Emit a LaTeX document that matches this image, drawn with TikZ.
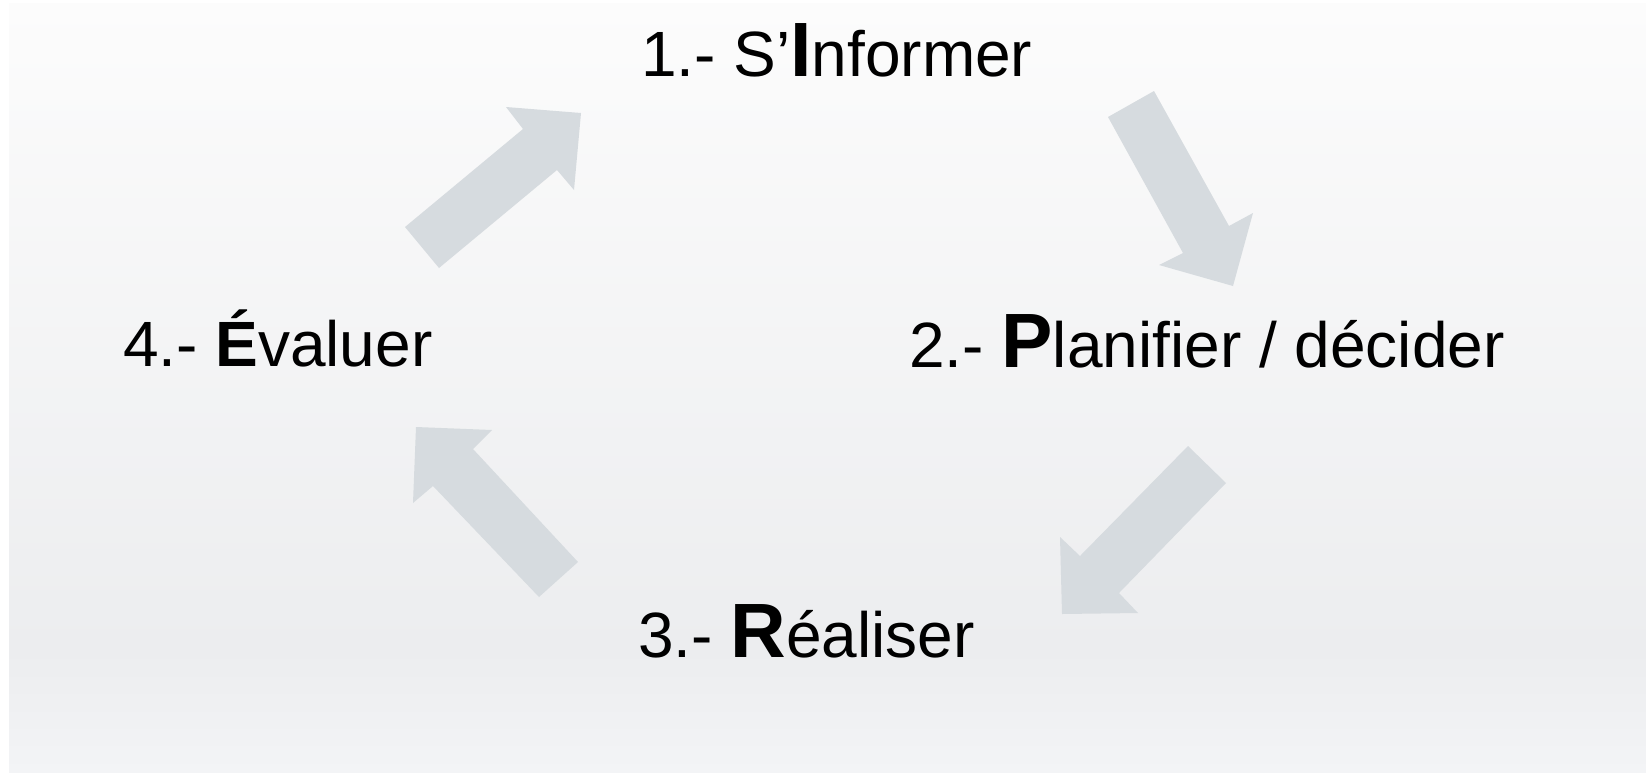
\documentclass[tikz,border=0pt]{standalone}
\usepackage{fontspec}
\setmainfont{Liberation Sans}
\definecolor{arrowgray}{RGB}{214,219,223}
\definecolor{bgtop}{RGB}{252,252,252}
\definecolor{bgmid}{RGB}{236,237,239}
\definecolor{bgbot}{RGB}{243,244,246}
\newcommand{\bigbf}[1]{{\fontsize{77}{77}\selectfont\bfseries #1}}
\begin{document}
\begin{tikzpicture}[x=1pt,y=-1pt,
  lbl/.style={anchor=base west,inner sep=0pt,outer sep=0pt,font=\fontsize{64}{64}\selectfont},
  blockarrow/.style={fill=arrowgray,draw=none}]
\useasboundingbox (0,0) rectangle (1646,772);
\shade[top color=bgtop,bottom color=bgmid] (9,3) rectangle (1646,650);
\shade[top color=bgmid,bottom color=bgbot] (9,650) rectangle (1646,772);
% arrow 4 -> 1
\fill[blockarrow] (405,227) -- (523,129) -- (506,107) -- (581,113) -- (574,190) -- (557,170) -- (439,268) -- cycle;
% arrow 1 -> 2
\fill[blockarrow] (1108,117) -- (1154,91) -- (1229,226) -- (1253,213) -- (1233,286) -- (1159,265) -- (1183,253) -- cycle;
% arrow 2 -> 3
\fill[blockarrow] (1188,446) -- (1226,483) -- (1119,593) -- (1138,613) -- (1062,614) -- (1060,537) -- (1080,556) -- cycle;
% arrow 3 -> 4
\fill[blockarrow] (578,562) -- (539,597) -- (433,486) -- (413,503) -- (416,427) -- (492,430) -- (473,449) -- cycle;
% labels
\node[lbl] (t1) at (641,76) {1.- S’\bigbf{I}nformer};
\node[lbl] (t2) at (909,367) {2.- \bigbf{P}lanifier / décider};
\node[lbl] (t3) at (638,657) {3.- \bigbf{R}éaliser};
\node[lbl] (t4) at (123,366) {4.- {\bfseries É}valuer};
\end{tikzpicture}
\end{document}
